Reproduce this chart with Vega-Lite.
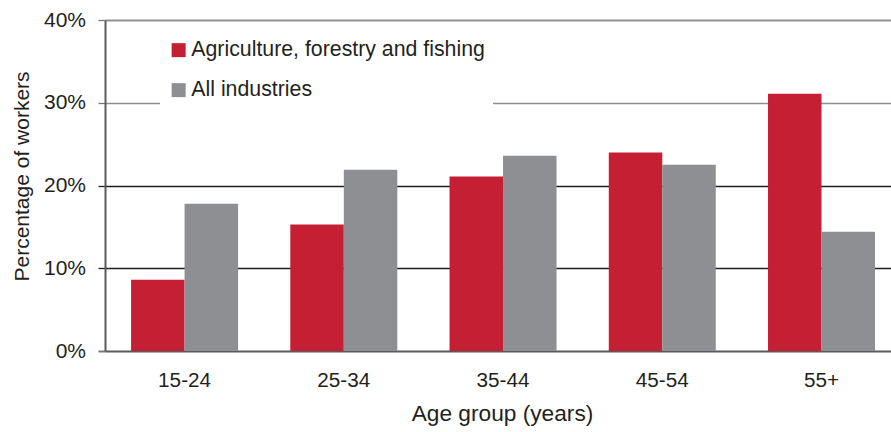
{
  "$schema": "https://vega.github.io/schema/vega-lite/v6.json",
  "width": 786,
  "height": 331,
  "autosize": {"type": "none"},
  "padding": {"left": 105, "top": 20, "right": 0, "bottom": 81},
  "background": "white",
  "config": {
    "view": {"stroke": null},
    "font": "Liberation Sans"
  },
  "data": {
    "values": [
      {"age": "15-24", "series": "Agriculture, forestry and fishing", "pct": 8.6},
      {"age": "15-24", "series": "All industries", "pct": 17.8},
      {"age": "25-34", "series": "Agriculture, forestry and fishing", "pct": 15.3},
      {"age": "25-34", "series": "All industries", "pct": 21.9},
      {"age": "35-44", "series": "Agriculture, forestry and fishing", "pct": 21.1},
      {"age": "35-44", "series": "All industries", "pct": 23.6},
      {"age": "45-54", "series": "Agriculture, forestry and fishing", "pct": 24.0},
      {"age": "45-54", "series": "All industries", "pct": 22.5},
      {"age": "55+", "series": "Agriculture, forestry and fishing", "pct": 31.1},
      {"age": "55+", "series": "All industries", "pct": 14.4}
    ]
  },
  "mark": {"type": "bar"},
  "encoding": {
    "x": {
      "field": "age",
      "type": "nominal",
      "sort": ["15-24", "25-34", "35-44", "45-54", "55+"],
      "scale": {"paddingInner": 0.328, "paddingOuter": 0.132, "align": 0.62, "round": false},
      "axis": {
        "title": "Age group (years)",
        "titleFontSize": 22.7,
        "titleFontWeight": "normal",
        "titleColor": "#231F20",
        "titlePadding": 13,
        "titleX": 397,
        "titleAlign": "center",
        "labelAngle": 0,
        "labelFontSize": 20.7,
        "labelColor": "#231F20",
        "labelPadding": 19,
        "ticks": false,
        "domain": false,
        "grid": false
      }
    },
    "xOffset": {
      "field": "series",
      "type": "nominal",
      "sort": ["Agriculture, forestry and fishing", "All industries"],
      "scale": {"paddingInner": 0, "paddingOuter": 0, "round": false}
    },
    "y": {
      "field": "pct",
      "type": "quantitative",
      "scale": {"domain": [0, 40], "nice": false, "zero": true},
      "axis": {
        "values": [0, 10, 20, 30, 40],
        "labelExpr": "datum.value + '%'",
        "title": "Percentage of workers",
        "titleFontSize": 21,
        "titleFontWeight": "normal",
        "titleColor": "#231F20",
        "titleY": 156,
        "titlePadding": 11,
        "labelFontSize": 21,
        "labelColor": "#231F20",
        "labelPadding": 12.5,
        "tickSize": 7,
        "tickColor": {"condition": {"test": "datum.value >= 30 || datum.value == 0", "value": "#7a7a7a"}, "value": "#231F20"},
        "tickWidth": {"condition": {"test": "datum.value == 0", "value": 2}, "value": 1.3},
        "domainColor": "#5a5a5a",
        "domainWidth": 2,
        "grid": true,
        "gridColor": {"condition": [{"test": "datum.value == 0", "value": "#5a5a5a"}, {"test": "datum.value >= 30", "value": "#8f8f8f"}], "value": "#231F20"},
        "gridWidth": {"condition": [{"test": "datum.value == 40", "value": 2}, {"test": "datum.value == 0", "value": 2}], "value": 1.3}
      }
    },
    "color": {
      "field": "series",
      "type": "nominal",
      "scale": {
        "domain": ["Agriculture, forestry and fishing", "All industries"],
        "range": ["#C41F33", "#8E8F93"]
      },
      "legend": {
        "title": null,
        "orient": "none",
        "legendX": 55,
        "legendY": 11.5,
        "fillColor": "white",
        "padding": 8,
        "symbolType": "square",
        "symbolSize": 196,
        "symbolStrokeWidth": 0,
        "labelFontSize": 21.3,
        "labelColor": "#231F20",
        "labelOffset": 2,
        "rowPadding": 18,
        "labelLimit": 400
      }
    }
  }
}
